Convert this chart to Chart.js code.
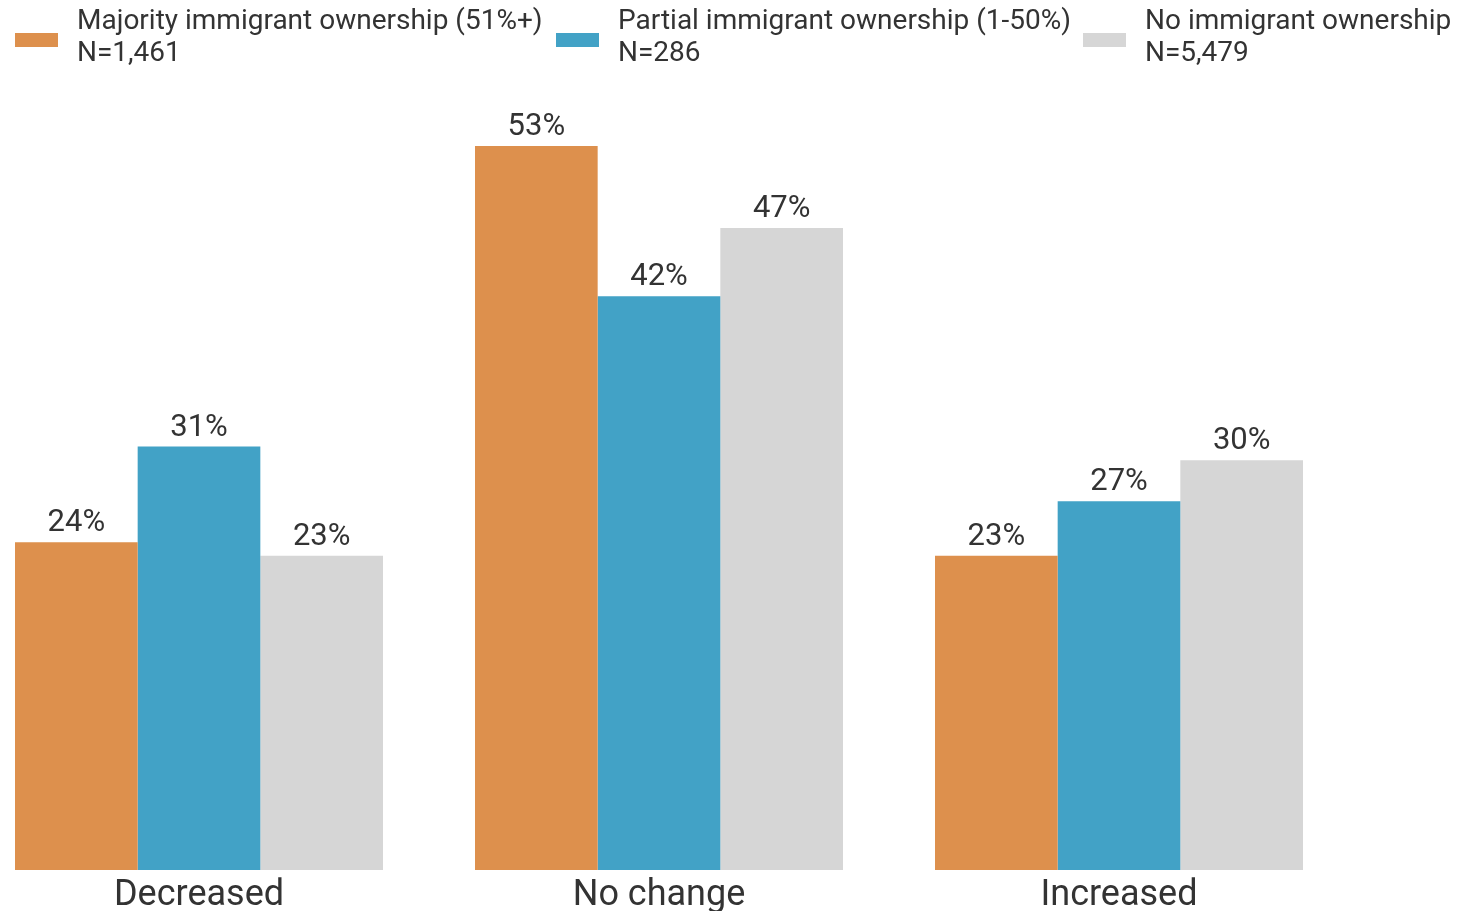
<!DOCTYPE html>
<html>
<head>
<meta charset="utf-8">
<script src="https://cdn.jsdelivr.net/npm/chart.js@4/dist/chart.umd.min.js"></script>
<style>
html,body{margin:0;padding:0;background:#fff;overflow:hidden;}
#wrap{position:absolute;left:-31px;top:0;width:1489px;height:922px;}
</style>
</head>
<body>
<div id="wrap"><canvas id="c" width="1489" height="922"></canvas></div>
<script>
const categories = ["Decreased", "No change", "Increased"];
const seriesNames = ["Majority immigrant ownership (51%+)", "Partial immigrant ownership (1-50%)", "No immigrant ownership"];
const seriesN = ["N=1,461", "N=286", "N=5,479"];
const majority = [24, 53, 23];
const partial = [31, 42, 27];
const none = [23, 47, 30];
const colors = ["#DD904D", "#42A2C6", "#D6D6D6"];

const FONT = "Roboto, 'Noto Sans', sans-serif";
const TEXT = "#333333";
const SHIFT = 31;

const valueLabels = {
  id: "valueLabels",
  afterDatasetsDraw(chart) {
    const ctx = chart.ctx;
    ctx.save();
    ctx.fillStyle = TEXT;
    ctx.font = "31px " + FONT;
    ctx.textAlign = "center";
    ctx.textBaseline = "alphabetic";
    chart.data.datasets.forEach((ds, i) => {
      const meta = chart.getDatasetMeta(i);
      meta.data.forEach((bar, j) => {
        ctx.fillText(ds.data[j] + "%", bar.x, bar.y - 11);
      });
    });
    ctx.restore();
  }
};

const topLegend = {
  id: "topLegend",
  afterDraw(chart) {
    const ctx = chart.ctx;
    const xs = [15, 556, 1083];
    ctx.save();
    ctx.font = "28px " + FONT;
    ctx.textBaseline = "middle";
    ctx.textAlign = "left";
    chart.data.datasets.forEach((ds, i) => {
      const x = xs[i] + SHIFT;
      ctx.fillStyle = ds.backgroundColor;
      ctx.fillRect(x, 33, 43, 14);
      ctx.fillStyle = TEXT;
      ctx.fillText(seriesNames[i], x + 62, 22);
      ctx.fillText(seriesN[i], x + 62, 54);
    });
    ctx.restore();
  }
};

new Chart(document.getElementById("c"), {
  type: "bar",
  data: {
    labels: categories,
    datasets: [
      { label: seriesNames[0], data: majority, backgroundColor: colors[0] },
      { label: seriesNames[1], data: partial, backgroundColor: colors[1] },
      { label: seriesNames[2], data: none, backgroundColor: colors[2] }
    ]
  },
  options: {
    responsive: false,
    animation: false,
    devicePixelRatio: 1,
    layout: { padding: { top: 105, left: 0, right: 109, bottom: 0 } },
    datasets: { bar: { categoryPercentage: 0.8, barPercentage: 1.0, borderWidth: 0 } },
    plugins: { legend: { display: false }, tooltip: { enabled: false } },
    scales: {
      x: {
        grid: { display: false, drawTicks: false },
        border: { display: false },
        ticks: { color: TEXT, font: { family: FONT, size: 36, lineHeight: 1.0 }, padding: 8 }
      },
      y: { display: false, min: 0, max: 56 }
    }
  },
  plugins: [valueLabels, topLegend]
});
</script>
</body>
</html>
